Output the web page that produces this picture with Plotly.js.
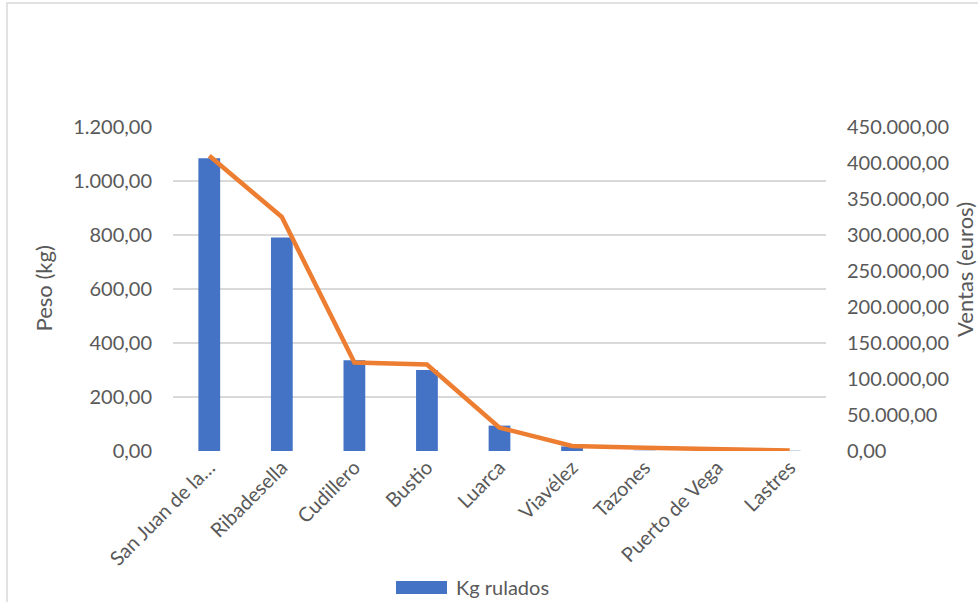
<!DOCTYPE html>
<html>
<head>
<meta charset="utf-8">
<script src="https://cdn.plot.ly/plotly-3.0.1.min.js"></script>
<style>html,body{margin:0;padding:0;background:#fff;}#chart{width:978px;height:602px;}</style>
</head>
<body>
<div id="chart"></div>
<script>
const categories = ["San Juan de la…", "Ribadesella", "Cudillero", "Bustio", "Luarca", "Viavélez", "Tazones", "Puerto de Vega", "Lastres"];
const kgRulados = [1084, 791, 336, 300, 94, 17, 1, 2, 1];
const ventas = [410000, 325000, 122800, 120000, 32500, 6900, 4500, 2400, 600];
const leftTicks = [0, 200, 400, 600, 800, 1000, 1200];
const rightTicks = [0, 50000, 100000, 150000, 200000, 250000, 300000, 350000, 400000, 450000];
const legendLabel = "Kg rulados";

const fam = "Lato, 'Open Sans', sans-serif";
const font = {family: fam, size: 20, color: "#595959"};

const traces = [
  {type: "bar", name: legendLabel, x: categories, y: kgRulados, marker: {color: "#4472c4"}, yaxis: "y", showlegend: false},
  {type: "scatter", mode: "lines", name: "Ventas", x: categories, y: ventas, yaxis: "y2",
   line: {color: "#ed7d31", width: 4.5}, showlegend: false}
];

const layout = {
  width: 978, height: 602,
  margin: {l: 173, r: 152, t: 127, b: 151},
  paper_bgcolor: "#fff", plot_bgcolor: "#fff",
  separators: ",.",
  font: font,
  bargap: 0.7,
  showlegend: false,
  xaxis: {type: "category", tickangle: -45, showgrid: false, zeroline: false, showline: false,
          ticks: "", tickfont: font, automargin: false},
  yaxis: {range: [0, 1200], tickvals: leftTicks, tickformat: ",.2f", showgrid: true,
          gridcolor: "#d9d9d9", gridwidth: 1.5, zeroline: false, showline: false, ticks: "",
          tickfont: font, ticklabelstandoff: 20, automargin: false},
  yaxis2: {range: [0, 450000], tickvals: rightTicks, tickformat: ",.2f", overlaying: "y", side: "right",
           showgrid: false, zeroline: false, showline: false, ticks: "", tickfont: font,
           ticklabelstandoff: 20, automargin: false},
  annotations: [
    {text: "Peso (kg)", xref: "paper", yref: "paper", x: -0.199, y: 0.502, textangle: -90,
     showarrow: false, font: {family: fam, size: 22, color: "#595959"}, xanchor: "center", yanchor: "middle"},
    {text: "Ventas (euros)", xref: "paper", yref: "paper", x: 1.213, y: 0.559, textangle: -90,
     showarrow: false, font: {family: fam, size: 22, color: "#595959"}, xanchor: "center", yanchor: "middle"},
    {text: legendLabel, xref: "paper", yref: "paper", x: 0.430, y: -0.420, xanchor: "left", yanchor: "middle",
     showarrow: false, font: font}
  ],
  shapes: [
    {type: "rect", xref: "paper", yref: "paper", x0: -0.2542, x1: 1.6, y0: -1, y1: 1.3827,
     line: {color: "#d9d9d9", width: 1.5}, fillcolor: "rgba(0,0,0,0)", layer: "below"},
    {type: "rect", xref: "paper", yref: "paper", x0: 0.3415, x1: 0.4196, y0: -0.441, y1: -0.401,
     line: {width: 0}, fillcolor: "#4472c4"}
  ]
};

Plotly.newPlot("chart", traces, layout, {displayModeBar: false, staticPlot: true});
</script>
</body>
</html>
